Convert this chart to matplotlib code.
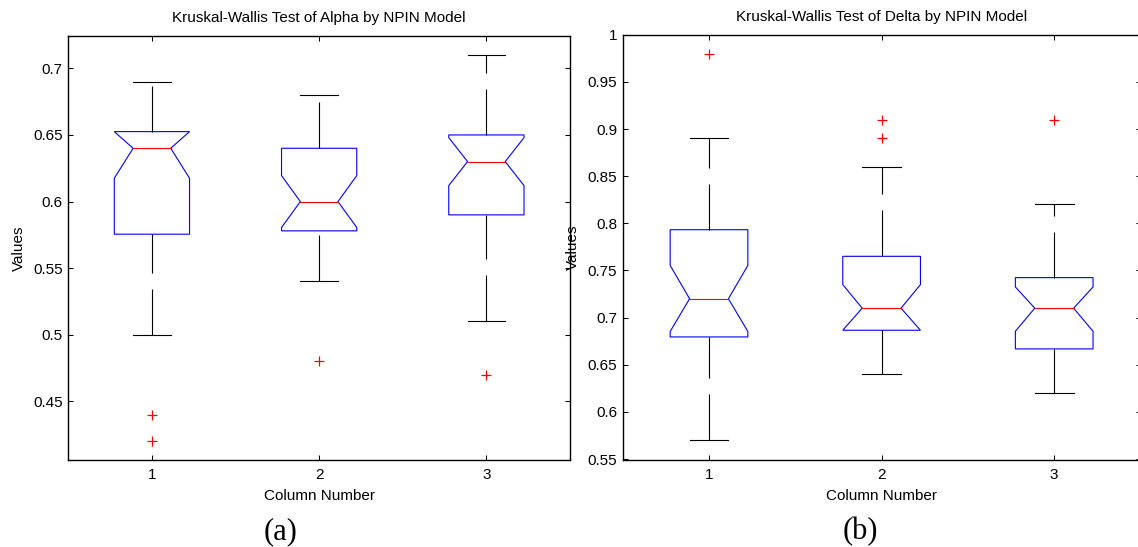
import matplotlib
matplotlib.use("Agg")
import matplotlib.pyplot as plt
from matplotlib.patches import Polygon

plt.rcParams['font.family'] = ['Liberation Sans', 'DejaVu Sans']
plt.rcParams['lines.scale_dashes'] = False

columns = [1, 2, 3]

# Alpha by NPIN model: box statistics per column
alpha_q1 = [0.5755, 0.578, 0.59]
alpha_med = [0.64, 0.60, 0.63]
alpha_q3 = [0.6525, 0.64, 0.65]
alpha_notch_lo = [0.6175, 0.5805, 0.612]
alpha_notch_hi = [0.6525, 0.6195, 0.648]
alpha_whisk_lo = [0.50, 0.54, 0.51]
alpha_whisk_hi = [0.69, 0.68, 0.71]
alpha_outliers = [[0.44, 0.42], [0.48], [0.47]]
alpha_ticks = [0.45, 0.5, 0.55, 0.6, 0.65, 0.7]

# Delta by NPIN model: box statistics per column
delta_q1 = [0.6795, 0.6866, 0.6668]
delta_med = [0.72, 0.71, 0.71]
delta_q3 = [0.7932, 0.765, 0.7424]
delta_notch_lo = [0.6853, 0.6866, 0.6855]
delta_notch_hi = [0.7553, 0.735, 0.7325]
delta_whisk_lo = [0.57, 0.64, 0.62]
delta_whisk_hi = [0.89, 0.86, 0.82]
delta_outliers = [[0.98], [0.91, 0.89], [0.91]]
delta_ticks = [0.55, 0.6, 0.65, 0.7, 0.75, 0.8, 0.85, 0.9, 0.95, 1.0]

BOX_HALF = 0.225
NOTCH_HALF = 0.1125
FS = 11
DASH = (0, (33.1, 11.5))

W, H = 1138, 547
fig = plt.figure(figsize=(W / 100, H / 100), dpi=100)


def draw_boxes(ax, q1, med, q3, nlo, nhi, wlo, whi, outs):
    for x, a, m, b, nl, nh, lo, hi, out in zip(columns, q1, med, q3, nlo, nhi,
                                               wlo, whi, outs):
        # whiskers are drawn upward from their lower end
        ax.plot([x, x], [b, hi], color='black', lw=0.8, linestyle=DASH)
        ax.plot([x, x], [lo, a], color='black', lw=0.8, linestyle=DASH)
        ax.plot([x - NOTCH_HALF, x + NOTCH_HALF], [hi, hi], color='black', lw=0.8)
        ax.plot([x - NOTCH_HALF, x + NOTCH_HALF], [lo, lo], color='black', lw=0.8)
        verts = [(x - BOX_HALF, a), (x - BOX_HALF, nl), (x - NOTCH_HALF, m),
                 (x - BOX_HALF, nh), (x - BOX_HALF, b), (x + BOX_HALF, b),
                 (x + BOX_HALF, nh), (x + NOTCH_HALF, m), (x + BOX_HALF, nl),
                 (x + BOX_HALF, a)]
        ax.add_patch(Polygon(verts, closed=True, fill=False,
                             edgecolor='blue', lw=0.8, zorder=3))
        ax.plot([x - NOTCH_HALF, x + NOTCH_HALF], [m, m], color='red', lw=0.8,
                zorder=4)
        ax.plot([x] * len(out), out, linestyle='none', marker='+',
                color='red', markeredgecolor='red', ms=7.5, mew=0.9, zorder=5)


def style_axes(ax, title, ylim, yticks):
    ax.set_xlim(0.5, 3.5)
    ax.set_ylim(*ylim)
    ax.set_xticks(columns)
    ax.set_xticklabels([str(c) for c in columns])
    ax.set_yticks(yticks)
    ax.set_yticklabels([f"{v:g}" for v in yticks])
    ax.tick_params(direction='in', top=True, right=True, length=3.6,
                   width=0.75, labelsize=FS, pad=4)
    ax.tick_params(axis='x', pad=5.5)
    for s in ax.spines.values():
        s.set_linewidth(1.0)
    ax.set_title(title, fontsize=FS, pad=9.6)
    ax.set_xlabel('Column Number', fontsize=FS, labelpad=5)
    ax.set_ylabel('Values', fontsize=FS, labelpad=5.5)


ax1 = fig.add_axes([68.3 / W, 87 / H, 501.7 / W, (460 - 35.7) / H])
draw_boxes(ax1, alpha_q1, alpha_med, alpha_q3, alpha_notch_lo, alpha_notch_hi,
           alpha_whisk_lo, alpha_whisk_hi, alpha_outliers)
style_axes(ax1, 'Kruskal-Wallis Test of Alpha by NPIN Model',
           (0.406, 0.7245), alpha_ticks)

ax2 = fig.add_axes([622.7 / W, 87 / H, 517.8 / W, (460 - 34.7) / H])
draw_boxes(ax2, delta_q1, delta_med, delta_q3, delta_notch_lo, delta_notch_hi,
           delta_whisk_lo, delta_whisk_hi, delta_outliers)
style_axes(ax2, 'Kruskal-Wallis Test of Delta by NPIN Model',
           (0.549, 1.0), delta_ticks)

fig.text(280.3 / W, 1 - 539 / H, '(a)', ha='center', va='baseline',
         fontsize=22, family=['Liberation Serif', 'DejaVu Serif'])
fig.text(860 / W, 1 - 539 / H, '(b)', ha='center', va='baseline',
         fontsize=22, family=['Liberation Serif', 'DejaVu Serif'])

fig.savefig('out.png', dpi=100)
